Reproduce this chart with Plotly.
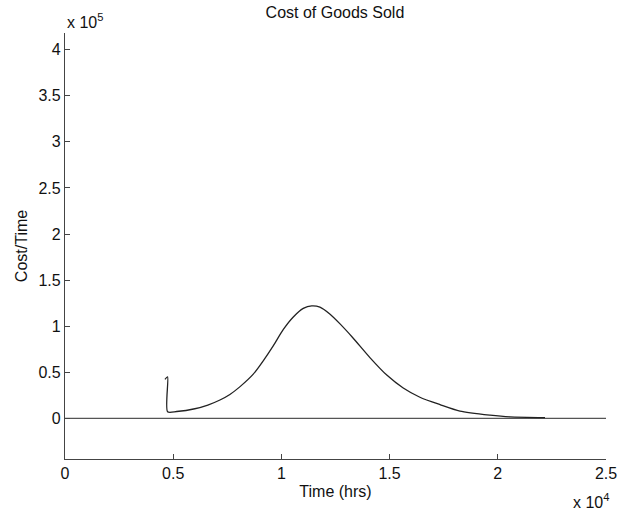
import plotly.graph_objects as go

# Curve data (x in hours, y in cost/time)
time_hrs = [4620, 4740, 4740, 5160, 6000, 6600, 7160, 7620, 8090, 8700, 9160,
            9630, 10090, 10550, 11010, 11400, 11780, 12250, 12710, 13320,
            14090, 14870, 15630, 16400, 17330, 18250, 19640, 20560, 22180]
cost = [42300, 45000, 7200, 7500, 10500, 14500, 20000, 26000, 34500, 48000, 62500,
        79000, 96500, 110000, 119300, 122100, 120700, 113000, 102500, 87000,
        66000, 47000, 33000, 23000, 15000, 8000, 3600, 1700, 900]

zero_x = [0, 25000]
zero_y = [0, 0]

x_tickvals = [0, 5000, 10000, 15000, 20000, 25000]
x_ticktext = ["0", "0.5", "1", "1.5", "2", "2.5"]
y_tickvals = [0, 50000, 100000, 150000, 200000, 250000, 300000, 350000, 400000]
y_ticktext = ["0", "0.5", "1", "1.5", "2", "2.5", "3", "3.5", "4"]

FONT = "Liberation Sans, Arial, sans-serif"

fig = go.Figure()
fig.add_trace(go.Scatter(x=zero_x, y=zero_y, mode="lines",
                         line=dict(color="#555555", width=1.3), showlegend=False))
fig.add_trace(go.Scatter(x=time_hrs, y=cost, mode="lines",
                         line=dict(color="#222222", width=1.3, shape="spline", smoothing=0.7),
                         showlegend=False))

fig.update_layout(
    width=618, height=515,
    margin=dict(l=65, r=12, t=33, b=56, autoexpand=False),
    paper_bgcolor="white", plot_bgcolor="white",
    font=dict(family=FONT, size=16, color="#111111"),
    title=dict(text="Cost of Goods Sold", x=0.542, xanchor="center", y=0.976, yanchor="middle",
               font=dict(family=FONT, size=16, color="#111111")),
    xaxis=dict(range=[0, 25000], tickvals=x_tickvals, ticktext=x_ticktext,
               ticks="inside", ticklen=5, tickcolor="#444444",
               showline=True, linecolor="#444444", linewidth=1.3,
               showgrid=False, zeroline=False, automargin=False,
               tickfont=dict(size=16),
               title=dict(text="Time (hrs)", standoff=4, font=dict(size=16))),
    yaxis=dict(range=[-44000, 418000], tickvals=y_tickvals, ticktext=y_ticktext,
               ticks="inside", ticklen=5, tickcolor="#444444",
               showline=True, linecolor="#444444", linewidth=1.3,
               showgrid=False, zeroline=False, automargin=False,
               tickfont=dict(size=16),
               title=dict(text="Cost/Time", standoff=6, font=dict(size=16))),
    annotations=[
        dict(text="x 10<sup>4</sup>", xref="paper", yref="paper", x=1.01, y=-0.07,
             xanchor="right", yanchor="top", showarrow=False, font=dict(size=16)),
        dict(text="x 10<sup>5</sup>", xref="paper", yref="paper", x=0.0, y=1.0,
             xanchor="left", yanchor="bottom", showarrow=False, font=dict(size=16)),
    ],
)

fig.write_html("out.html")
